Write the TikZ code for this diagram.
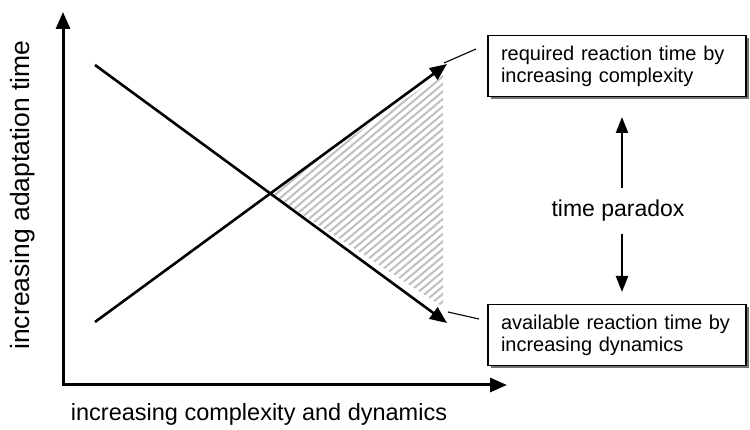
\documentclass[tikz,border=0pt]{standalone}
\usepackage{fontspec}
\setmainfont{Liberation Sans}
\usetikzlibrary{arrows.meta}
\begin{document}
\begin{tikzpicture}[x=1pt,y=-1pt,
  bigarrow/.style={line width=2.6pt,-{Triangle[length=17pt,width=14pt]}},
  axisarrow/.style={line width=3pt,-{Triangle[length=17pt,width=14pt]}},
  smallarrow/.style={line width=2.2pt,-{Triangle[length=16pt,width=12pt]}},
  leader/.style={line width=1.1pt},
  hatch/.style={gray!50,line width=2pt},
  labelbox/.style={draw=black,line width=1.2pt,fill=white,
    minimum width=258pt,minimum height=61pt,align=left,
    font=\fontsize{20}{22}\selectfont,
    text width=232pt,inner sep=0pt},
  shadowbox/.style={fill=black!55,minimum width=258pt,minimum height=61pt,inner sep=0pt},
  axislabel/.style={inner sep=0pt}]
\useasboundingbox (0,0) rectangle (750,430);

% axes
\coordinate (origin) at (63,385);
\coordinate (ytip) at (63,12);
\coordinate (xtip) at (507,385);
\draw[axisarrow] (origin) -- (ytip);
\draw[axisarrow] ([xshift=-1.5pt]origin) -- (xtip);

% the two crossing lines
\coordinate (dstart) at (95,65);
\coordinate (dend) at (447,323);
\coordinate (ustart) at (95,322);
\coordinate (uend) at (447,64);
\coordinate (cross) at (270.5,193.3);
\coordinate (hatchtop) at (443,73);
\coordinate (hatchbot) at (443,307);

% hatched gap between the lines
\begin{scope}
  \clip (cross) -- (hatchtop) -- (hatchbot) -- cycle;
  \foreach \k in {0,...,60}{
    \draw[hatch] (260,{200+7.5*\k}) -- ++(200,-168);
  }
\end{scope}

\draw[bigarrow] (dstart) -- (dend);
\draw[bigarrow] (ustart) -- (uend);

% label boxes with shadows
\node[shadowbox] at (620,69) {};
\node[labelbox] (req) at (617,66) {required reaction time by\\increasing complexity};
\node[shadowbox] at (620,338) {};
\node[labelbox] (avail) at (617,335) {available reaction time by\\increasing dynamics};

% leaders from the arrow tips to the boxes
\coordinate (reqfoot) at (444,63);
\coordinate (reqlead) at (476,49);
\coordinate (availfoot) at (448,312);
\coordinate (availlead) at (479,319);
\draw[leader] (reqfoot) -- (reqlead);
\draw[leader] (availfoot) -- (availlead);

% time paradox
\node[font=\fontsize{23}{26}\selectfont,inner sep=0pt] (tp) at (618,211) {time paradox};
\coordinate (upfoot) at (622,188);
\coordinate (uptip) at (622,117);
\coordinate (downfoot) at (622,234);
\coordinate (downtip) at (622,292);
\draw[smallarrow] (upfoot) -- (uptip);
\draw[smallarrow] (downfoot) -- (downtip);

% axis labels
\node[axislabel,rotate=90,font=\fontsize{26.5}{28}\selectfont] (ylab) at (23,195)
  {increasing adaptation time};
\node[axislabel,font=\fontsize{23.5}{26}\selectfont] (xlab) at (259,414)
  {increasing complexity and dynamics};
\end{tikzpicture}
\end{document}
